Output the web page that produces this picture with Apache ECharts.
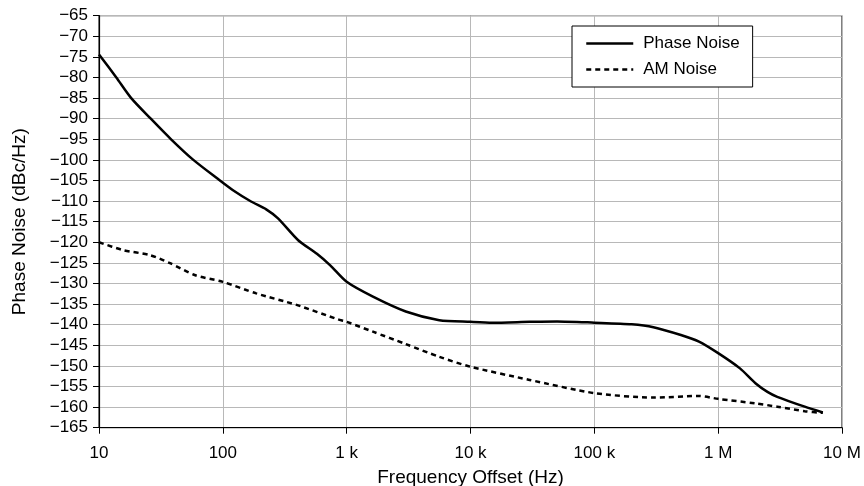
<!DOCTYPE html>
<html>
<head>
<meta charset="utf-8">
<script src="https://cdn.jsdelivr.net/npm/echarts@6/dist/echarts.min.js"></script>
<style>html,body{margin:0;padding:0;background:#fff;}#c{width:864px;height:486px;}</style>
</head>
<body>
<div id="c"></div>
<script>
const pnFreq = [10, 13.8, 18.2, 26.2, 38.2, 57.8, 91, 120, 169, 224, 279, 406, 575, 737, 1000, 1630, 3000, 5600, 10000, 15000, 30000, 50000, 100000, 200000, 300000, 500000, 700000, 1000000, 1500000, 2000000, 2500000, 3000000, 5000000, 7000000];
const pnValues = [-74.4, -80, -85, -90, -95, -100, -104.6, -107.3, -110.1, -112.0, -114.2, -119.5, -122.8, -125.6, -129.6, -133.2, -136.8, -138.9, -139.3, -139.5, -139.3, -139.2, -139.5, -139.9, -140.6, -142.5, -144.1, -146.9, -150.6, -154.2, -156.3, -157.5, -159.9, -161.3];
const amFreq = [10, 15.7, 25.7, 37, 60, 100, 186, 394, 850, 1000, 1630, 3000, 5600, 10000, 30000, 100000, 300000, 700000, 1000000, 2000000, 3000000, 5000000, 7000000];
const amValues = [-120, -121.9, -123.1, -125, -128, -129.6, -132.4, -135.2, -138.7, -139.3, -141.7, -144.7, -147.8, -150.2, -153.4, -156.6, -157.7, -157.3, -158, -159.1, -159.9, -161, -161.4];
const xTickValues = [10, 100, 1000, 10000, 100000, 1000000, 10000000];
const xTickLabels = ['10', '100', '1 k', '10 k', '100 k', '1 M', '10 M'];
const seriesNames = ['Phase Noise', 'AM Noise'];

const font = 'Liberation Sans, Arial, Helvetica, sans-serif';
const chart = echarts.init(document.getElementById('c'));
chart.setOption({
  animation: false,
  backgroundColor: '#fff',
  grid: { left: 99, right: 22, top: 15.7, bottom: 58.3, show: true, borderColor: '#000', borderWidth: 1, containLabel: false, outerBoundsMode: 'none' },
  legend: {
    orient: 'vertical', left: 572, top: 26,
    padding: [9, 13, 9, 13],
    itemWidth: 47, itemHeight: 14, itemGap: 9,
    borderColor: '#000', borderWidth: 1, backgroundColor: '#fff',
    itemStyle: { opacity: 0 },
    lineStyle: { width: 2.5 },
    textStyle: { fontFamily: font, fontSize: 17, color: '#000', padding: [0, 0, 0, 5] },
    data: seriesNames
  },
  xAxis: {
    type: 'log', logBase: 10, min: 10, max: 10000000,
    name: 'Frequency Offset (Hz)', nameLocation: 'middle', nameGap: 41,
    nameTextStyle: { fontFamily: font, fontSize: 19, color: '#000' },
    axisLine: { show: true, lineStyle: { color: '#000', width: 1.2 } },
    axisTick: { show: true, inside: false, length: 6, lineStyle: { color: '#000' } },
    axisLabel: { fontFamily: font, fontSize: 17, color: '#000', margin: 17,
      formatter: v => { const i = xTickValues.findIndex(t => Math.abs(t - v) / t < 1e-6); return i >= 0 ? xTickLabels[i] : ''; } },
    splitLine: { show: true, lineStyle: { color: '#b8b8b8', width: 1 } },
    minorTick: { show: false }
  },
  yAxis: {
    type: 'value', min: -165, max: -65, interval: 5,
    name: 'Phase Noise (dBc/Hz)', nameLocation: 'middle', nameGap: 70,
    nameTextStyle: { fontFamily: font, fontSize: 19, color: '#000' },
    axisLine: { show: true, lineStyle: { color: '#000', width: 1.2 } },
    axisTick: { show: true, inside: false, length: 6, lineStyle: { color: '#000' } },
    axisLabel: { fontFamily: font, fontSize: 17, color: '#000', margin: 11,
      formatter: v => String(v).replace('-', '\u2212') },
    splitLine: { show: true, lineStyle: { color: '#b8b8b8', width: 1 } }
  },
  series: [
    { name: seriesNames[0], type: 'line', smooth: 0.25, symbol: 'none',
      lineStyle: { color: '#000', width: 2.5 }, itemStyle: { color: '#000' },
      data: pnFreq.map((f, i) => [f, pnValues[i]]) },
    { name: seriesNames[1], type: 'line', smooth: 0.25, symbol: 'none',
      lineStyle: { color: '#000', width: 2.5, type: [5, 4] }, itemStyle: { color: '#000' },
      data: amFreq.map((f, i) => [f, amValues[i]]) }
  ]
});
</script>
</body>
</html>
